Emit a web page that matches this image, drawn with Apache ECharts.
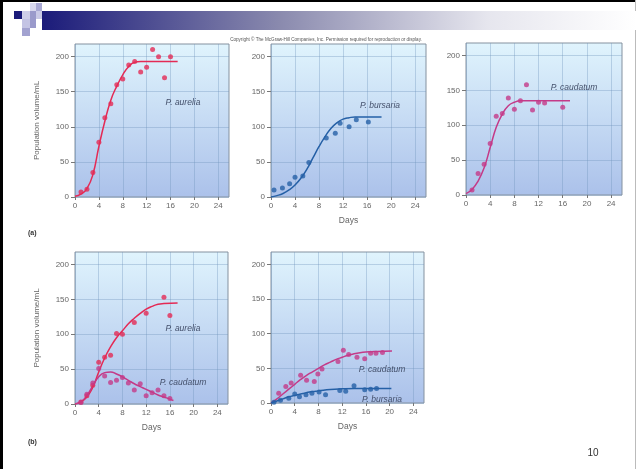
<!DOCTYPE html>
<html><head><meta charset="utf-8">
<script src="https://cdn.jsdelivr.net/npm/echarts@6/dist/echarts.min.js"></script>
<style>html,body{margin:0;padding:0;background:#fff}#c{width:636px;height:469px}</style>
</head><body><div id="c"></div>
<script>
// ---- tick values ----
const dayTicks = [0, 4, 8, 12, 16, 20, 24];
const popTicks = [0, 50, 100, 150, 200];

// ---- (a) grown alone ----
const aureliaAlonePts = [[1,7],[2,11],[3,35],[4,78],[5,113],[6,133],[7,160],[8,168],[9,188],[10,193],[11,178],[12,185],[13,210],[14,200],[15,170],[16,200]];
const aureliaAloneFit = [[0,1],[1,4],[2,12],[3,32],[4,72],[5,108],[6,138],[7,158],[8,174],[9,186],[10,192],[11,193],[14,193],[17.2,193]];
const bursariaAlonePts = [[0.5,10],[1.9,13],[3.1,19],[4,28],[5.3,30],[6.3,49],[9.2,84],[10.7,91],[11.5,105],[13,100],[14.2,110],[16.2,107]];
const bursariaAloneFit = [[0,0],[1,2],[2,5],[3,10],[4,17],[5,27],[6,40],[7,56],[8,72],[9,86],[10,98],[11,106],[12,111],[13,113],[14,114],[16,114],[18.4,114]];
const caudatumAlonePts = [[1,7],[2,31],[3,44],[4,74],[5,113],[6,117],[7,139],[8,123],[9,135],[10,158],[11,122],[12,133],[13,132],[16,126]];
const caudatumAloneFit = [[0,2],[1,8],[2,20],[3,39],[4,68],[5,97],[6,116],[7,128],[8,133],[9,135],[10,135],[14,135],[17.2,135]];

// ---- (b) grown together ----
const mixAAureliaPts = [[1,3],[2,12],[3,27],[4,60],[5,67],[6,70],[7,101],[8,100],[10,117],[12,130],[15,153],[16,127]];
const mixAAureliaFit = [[0,0],[1,3],[2,10],[3,24],[4,46],[5,66],[6,82],[7,95],[8,105],[9,115],[10,123],[11,130],[12,136],[13,140],[14,143],[15,144],[17.3,145]];
const mixACaudatumPts = [[1,2],[2,14],[3,30],[4,51],[5,40],[6,31],[7,34],[8,38],[9,30],[10,20],[11,29],[12,12],[13,16],[14,20],[15,12],[16,8]];
const mixACaudatumFit = [[0,0],[1,3],[2,12],[3,26],[4,39],[5,45],[6,46],[7,43],[8,39],[9,34],[10,29],[11,25],[12,21],[13,17],[14,13],[15,10],[16,7],[16.6,5]];
const mixBCaudatumPts = [[1.3,14],[2.5,24],[3.4,29],[5,40],[6,33],[7.3,31],[7.9,42],[8.6,49],[11.3,60],[12.2,76],[13.1,70],[14.5,66],[15.8,64],[16.8,72],[17.7,72],[18.8,73]];
const mixBCaudatumFit = [[0,0],[1,6],[2,13],[3,20],[4,27],[5,34],[6,40],[7,45],[8,50],[9,55],[10,59],[11,63],[12,66],[13,69],[14,71],[15,72.5],[16,73.5],[17,74],[18,74.5],[20.4,75]];
const mixBBursariaPts = [[0.5,1],[1.6,4],[3,7],[4,13],[4.8,9],[5.9,12],[6.9,14],[8.1,16],[9.2,12],[11.6,18],[12.6,17],[14,25],[15.8,19],[16.8,20],[17.8,21]];
const mixBBursariaFit = [[0,0],[1,3],[2,6],[3,9],[4,11],[5,13],[6,15],[7,16.5],[8,17.5],[10,19.5],[12,20.5],[14,21],[16,21],[18,21],[20.3,21]];

const RED = '#e42a55', MAG = '#c43a88', BLUE = '#2560a6';
const FONT = '"Liberation Sans", Arial, sans-serif';

const panels = [
  {grid:{left:75, top:44, width:154, height:153}, yName:true, xName:false},
  {grid:{left:271, top:44, width:155, height:153}, yName:false, xName:true},
  {grid:{left:466, top:43, width:156, height:152}, yName:false, xName:false},
  {grid:{left:75, top:252, width:153, height:152}, yName:true, xName:true},
  {grid:{left:271, top:252, width:153, height:151}, yName:false, xName:true}
];

const seriesDefs = [
  [0, aureliaAlonePts, aureliaAloneFit, RED],
  [1, bursariaAlonePts, bursariaAloneFit, BLUE],
  [2, caudatumAlonePts, caudatumAloneFit, MAG],
  [3, mixAAureliaPts, mixAAureliaFit, RED],
  [3, mixACaudatumPts, mixACaudatumFit, MAG],
  [4, mixBCaudatumPts, mixBCaudatumFit, MAG],
  [4, mixBBursariaPts, mixBBursariaFit, BLUE]
];

const grids = [], xAxes = [], yAxes = [], series = [];
panels.forEach((p, i) => {
  grids.push(Object.assign({show:true, borderColor:'#84919f', borderWidth:1,
    backgroundColor:{type:'linear', x:0, y:0, x2:0, y2:1,
      colorStops:[{offset:0,color:'#e0f4fd'},{offset:1,color:'#abc1ea'}]}}, p.grid));
  xAxes.push({type:'value', gridIndex:i, min:0, max:25.8, interval:4,
    name: p.xName ? 'Days' : '', nameLocation:'middle', nameGap:19,
    nameTextStyle:{color:'#666', fontSize:8.5, fontFamily:FONT},
    axisLine:{show:false},
    axisTick:{show:true, length:3, lineStyle:{color:'#777'}, customValues: dayTicks},
    axisLabel:{color:'#666', fontSize:8, fontFamily:FONT, margin:5,
      formatter: v => dayTicks.indexOf(v) >= 0 ? String(v) : ''},
    splitLine:{show:true, lineStyle:{color:'rgba(110,145,185,0.35)', width:1}}
  });
  yAxes.push({type:'value', gridIndex:i, min:0, max:218, interval:50,
    name: p.yName ? 'Population volume/mL' : '', nameLocation:'middle', nameGap:34, nameRotate:90,
    nameTextStyle:{color:'#666', fontSize:8, fontFamily:FONT},
    axisLine:{show:false},
    axisTick:{show:true, length:4, lineStyle:{color:'#777'}, customValues: popTicks},
    axisLabel:{color:'#666', fontSize:8, fontFamily:FONT, margin:6,
      formatter: v => popTicks.indexOf(v) >= 0 ? String(v) : ''},
    splitLine:{show:true, lineStyle:{color:'rgba(110,145,185,0.35)', width:1}}
  });
});

seriesDefs.forEach(([g, pts, fit, col]) => {
  series.push({type:'line', xAxisIndex:g, yAxisIndex:g, data:fit, smooth:0.5,
    showSymbol:false, symbol:'none', lineStyle:{color:col, width:1.5}, z:3, silent:true});
  series.push({type:'scatter', xAxisIndex:g, yAxisIndex:g, data:pts, symbol:'circle', symbolSize:5,
    itemStyle:{color:col}, z:4, silent:true});
});

function lbl(text, x, y) {
  return {type:'text', x:x, y:y, z:10, style:{text:text, fill:'#44506b',
    font:'italic 8.5px ' + FONT, align:'center', verticalAlign:'middle'}};
}
function sq(x, y, w, h, c) { return {type:'rect', shape:{x:x,y:y,width:w,height:h}, style:{fill:c}, z:1}; }

const graphics = [
  // frame
  sq(0, 0, 636, 2, '#000'),
  sq(0, 0, 3, 469, '#000'),
  sq(635, 0, 1, 469, '#bbb'),
  // title band
  {type:'rect', shape:{x:42, y:11, width:594, height:19}, z:1,
    style:{fill:{type:'linear', x:0, y:0, x2:1, y2:0,
      colorStops:[{offset:0,color:'#1b1b7a'},{offset:0.4,color:'#8a8aae'},{offset:0.75,color:'#e6e6ee'},{offset:1,color:'#ffffff'}]}}},
  sq(14, 11, 8, 8, '#1b1b7a'),
  sq(22, 11, 8, 8, '#cfcfe9'),
  sq(30, 3, 6, 8, '#d8d8ee'),
  sq(36, 3, 6, 8, '#a9a9d4'),
  sq(30, 11, 6, 8, '#9a9acb'),
  sq(36, 11, 6, 8, '#c9c9e6'),
  sq(22, 19, 8, 9, '#c4c4e4'),
  sq(30, 19, 6, 9, '#9a9acb'),
  sq(22, 28, 8, 8, '#a2a2d0'),
  // copyright
  {type:'text', x:326, y:40, z:10, style:{text:'Copyright \u00a9 The McGraw-Hill Companies, Inc. Permission required for reproduction or display.',
    fill:'#555', font:'4.6px ' + FONT, align:'center', verticalAlign:'middle'}},
  // panel tags
  {type:'text', x:28, y:233, z:10, style:{text:'(a)', fill:'#333', font:'bold 7px ' + FONT, align:'left', verticalAlign:'middle'}},
  {type:'text', x:28, y:442, z:10, style:{text:'(b)', fill:'#333', font:'bold 7px ' + FONT, align:'left', verticalAlign:'middle'}},
  // slide number
  {type:'text', x:593, y:453, z:10, style:{text:'10', fill:'#333', font:'10px ' + FONT, align:'center', verticalAlign:'middle'}},
  // species labels
  lbl('P. aurelia', 183, 103),
  lbl('P. bursaria', 380, 106),
  lbl('P. caudatum', 574, 88),
  lbl('P. aurelia', 183, 329),
  lbl('P. caudatum', 183, 383),
  lbl('P. caudatum', 382, 370),
  lbl('P. bursaria', 382, 400)
];

const chart = echarts.init(document.getElementById('c'), null, {renderer:'canvas'});
chart.setOption({
  backgroundColor:'#fff',
  animation:false,
  grid:grids, xAxis:xAxes, yAxis:yAxes, series:series,
  graphic:{elements:graphics}
});
</script></body></html>
